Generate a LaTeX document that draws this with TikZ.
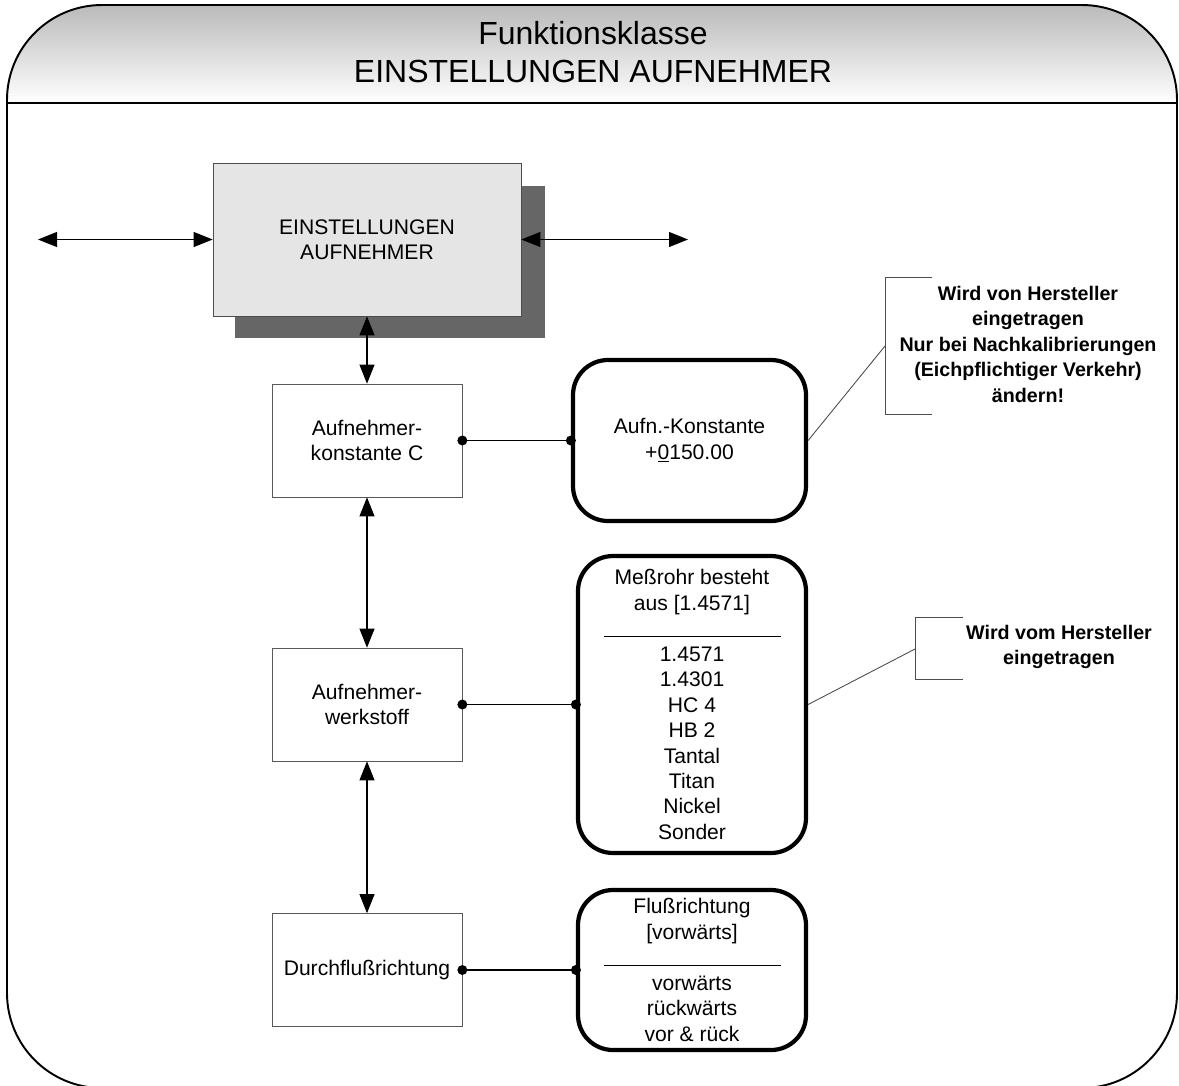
\documentclass[tikz,border=0pt]{standalone}
\usepackage{fontspec}
\setmainfont{Liberation Sans}
\usetikzlibrary{arrows.meta}

\begin{document}
\begin{tikzpicture}[x=1cm,y=1cm]
\definecolor{cshadow}{RGB}{102,102,102}
\definecolor{cpanel}{RGB}{229,229,229}
\tikzset{
  blk/.style={draw=black!65,fill=white,minimum width=3.80cm,minimum height=2.26cm,inner sep=0pt,align=center,font=\fontsize{12}{14.5}\selectfont},
  val/.style={draw,line width=2.4pt,rounded corners=0.7cm,inner sep=0pt,align=center,font=\fontsize{12}{14.5}\selectfont},
  note/.style={align=center,font=\bfseries\fontsize{11.2}{14.5}\selectfont},
  both/.style={{Triangle[length=0.38cm,width=0.30cm]}-{Triangle[length=0.38cm,width=0.30cm]},black,line width=0.6pt},
  link/.style={black,line width=0.6pt},
  lead/.style={black!70,line width=0.5pt}
}
\useasboundingbox (0,0) rectangle (23.58,-21.70);
% frame with shaded header
\begin{scope}
\clip[rounded corners=1.9cm] (0.14,-0.10) rectangle (23.54,-21.76);
\shade[top color=black!27,bottom color=white] (0.14,-0.10) rectangle (23.54,-2.06);
\end{scope}
\draw[line width=1.1pt,rounded corners=1.9cm] (0.14,-0.10) rectangle (23.54,-21.76);
\draw[line width=0.8pt] (0.14,-2.06) -- (23.54,-2.06);
\node[align=center,font=\fontsize{18.2}{21.8}\selectfont] (title) at (11.86,-1.04) {Funktionsklasse\\EINSTELLUNGEN AUFNEHMER};
% main block
\fill[cshadow] (4.70,-3.72) rectangle (10.90,-6.76);
\node[draw=black!70,fill=cpanel,minimum width=6.16cm,minimum height=3.06cm,inner sep=0pt,align=center,font=\fontsize{12}{14.5}\selectfont] (setup) at (7.34,-4.79) {EINSTELLUNGEN\\AUFNEHMER};
\coordinate (inL) at (0.76,-4.79);
\coordinate (outR) at (13.76,-4.79);
\draw[both] (inL) -- (setup.west);
\draw[both] (setup.east) -- (outR);
% function blocks
\node[blk] (konst) at (7.34,-8.81) {Aufnehmer-\\konstante C};
\node[blk] (werk) at (7.34,-14.09) {Aufnehmer-\\werkstoff};
\node[blk] (durch) at (7.34,-19.40) {Durchflußrichtung};
\draw[both] (setup.south) -- (konst.north);
\draw[both] (konst.south) -- (werk.north);
\draw[both] (werk.south) -- (durch.north);
% value boxes
\node[val,minimum width=4.66cm,minimum height=3.22cm] (konstval) at (13.79,-8.81) {Aufn.-Konstante\\+\underline{0}150.00};
\node[val,minimum width=4.56cm,minimum height=5.94cm] (werkval) at (13.84,-14.09) {Meßrohr besteht\\aus [1.4571]\\\rule[-0.6pt]{3.54cm}{0.6pt}\\1.4571\\1.4301\\HC 4\\HB 2\\Tantal\\Titan\\Nickel\\Sonder};
\node[val,minimum width=4.56cm,minimum height=3.20cm] (durchval) at (13.84,-19.40) {Flußrichtung\\{[vorwärts]}\\\rule[-0.6pt]{3.54cm}{0.6pt}\\vorwärts\\rückwärts\\vor \& rück};
\draw[link] (konst.east) -- (konstval.west);
\fill (konst.east) circle (0.1);
\fill (konstval.west) circle (0.1);
\draw[link] (werk.east) -- (werkval.west);
\fill (werk.east) circle (0.1);
\fill (werkval.west) circle (0.1);
\draw[link] (durch.east) -- (durchval.west);
\fill (durch.east) circle (0.1);
\fill (durchval.west) circle (0.1);
% notes
\node[note] (note1) at (20.56,-6.88) {Wird von Hersteller\\eingetragen\\Nur bei Nachkalibrierungen\\(Eichpflichtiger Verkehr)\\ändern!};
\coordinate (b1) at (17.70,-6.92);
\draw[lead] (18.64,-5.54) -| (b1) |- (18.64,-8.28);
\draw[lead] (konstval.east) -- (b1);
\node[note] (note2) at (21.18,-12.94) {Wird vom Hersteller\\eingetragen};
\coordinate (b2) at (18.30,-12.98);
\draw[lead] (19.26,-12.34) -| (b2) |- (19.26,-13.58);
\draw[lead] (werkval.east) -- (b2);
\end{tikzpicture}
\end{document}
